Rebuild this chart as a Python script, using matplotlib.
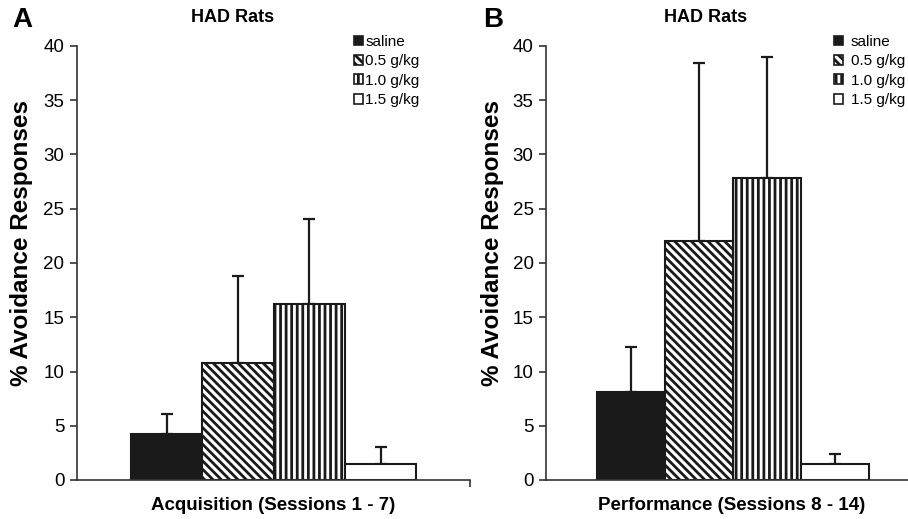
import numpy as np
import matplotlib.pyplot as plt
from matplotlib.patches import Patch

plt.rcParams['font.family'] = ['Liberation Sans', 'DejaVu Sans']
plt.rcParams['hatch.linewidth'] = 2.0

doses = ['saline', '0.5 g/kg', '1.0 g/kg', '1.5 g/kg']
acq_mean = [4.2, 10.8, 16.2, 1.5]
acq_err = [1.9, 8.0, 7.9, 1.5]
perf_mean = [8.1, 22.0, 27.8, 1.5]
perf_err = [4.2, 16.4, 11.2, 0.9]

colors = ['#1a1a1a', 'white', 'white', 'white']
hatches = [None, '\\\\\\\\', '|||', None]

fig = plt.figure(figsize=(9.08, 5.19), dpi=100)
axA = fig.add_axes([77/908, 1-480/519, 393/908, 434/519])
axB = fig.add_axes([546/908, 1-480/519, 362/908, 434/519])


def draw(ax, means, errs, xlim):
    x = np.arange(len(means))
    for i in x:
        ax.bar(i, means[i], width=1, align='edge', color=colors[i],
               hatch=hatches[i], edgecolor='#1a1a1a', linewidth=1.5, zorder=2)
        ax.errorbar(i + 0.5, means[i], yerr=[[0], [errs[i]]], fmt='none',
                    ecolor='#1a1a1a', elinewidth=1.6, capsize=4, capthick=1.6,
                    zorder=1)
    ax.set_xlim(*xlim)
    ax.set_ylim(0, 40)
    ax.set_yticks(np.arange(0, 41, 5))
    ax.spines['top'].set_visible(False)
    ax.spines['right'].set_visible(False)
    for s in ['left', 'bottom']:
        ax.spines[s].set_linewidth(1.2)
        ax.spines[s].set_color('#333333')
    ax.tick_params(axis='y', direction='out', length=5, width=1.2,
                   color='#333333', labelsize=13.5, pad=4)
    ax.set_xticks([])


draw(axA, acq_mean, acq_err, (-0.757, 4.754))
draw(axB, perf_mean, perf_err, (-0.75, 4.57))
axA.set_xticks([4.754])
axA.tick_params(axis='x', direction='out', length=5, width=1.2,
                color='#333333', labelbottom=False)

fig.text(273/908, 1-505/519, 'Acquisition (Sessions 1 - 7)', fontsize=13.5,
         fontweight='bold', ha='center', va='center')
fig.text(732/908, 1-505/519, 'Performance (Sessions 8 - 14)', fontsize=13.5,
         fontweight='bold', ha='center', va='center')

for xp in [22/908, 492/908]:
    fig.text(xp, 1-243/519, '% Avoidance Responses', rotation=90,
             fontsize=17.5, fontweight='bold', ha='center', va='center')

fig.text(233/908, 1-18/519, 'HAD Rats', fontsize=13, fontweight='bold',
         ha='center', va='center')
fig.text(706/908, 1-18/519, 'HAD Rats', fontsize=13, fontweight='bold',
         ha='center', va='center')
fig.text(12/908, 1-20/519, 'A', fontsize=20, fontweight='bold', va='center')
fig.text(483/908, 1-20/519, 'B', fontsize=20, fontweight='bold', va='center')

handles = [Patch(facecolor=colors[i], edgecolor='#1a1a1a', hatch=hatches[i],
                 linewidth=1.2) for i in range(4)]
for ax, xp, pad in [(axA, 354/908, 0.15), (axB, 834/908, 0.5)]:
    ax.legend(handles, doses, loc='upper left',
              bbox_to_anchor=(xp, 1-35/519), bbox_transform=fig.transFigure,
              frameon=False, fontsize=11, handlelength=0.6, handleheight=0.6,
              handletextpad=pad, labelspacing=0.35, borderpad=0,
              borderaxespad=0)

fig.savefig('out.png', dpi=100, facecolor='white')
